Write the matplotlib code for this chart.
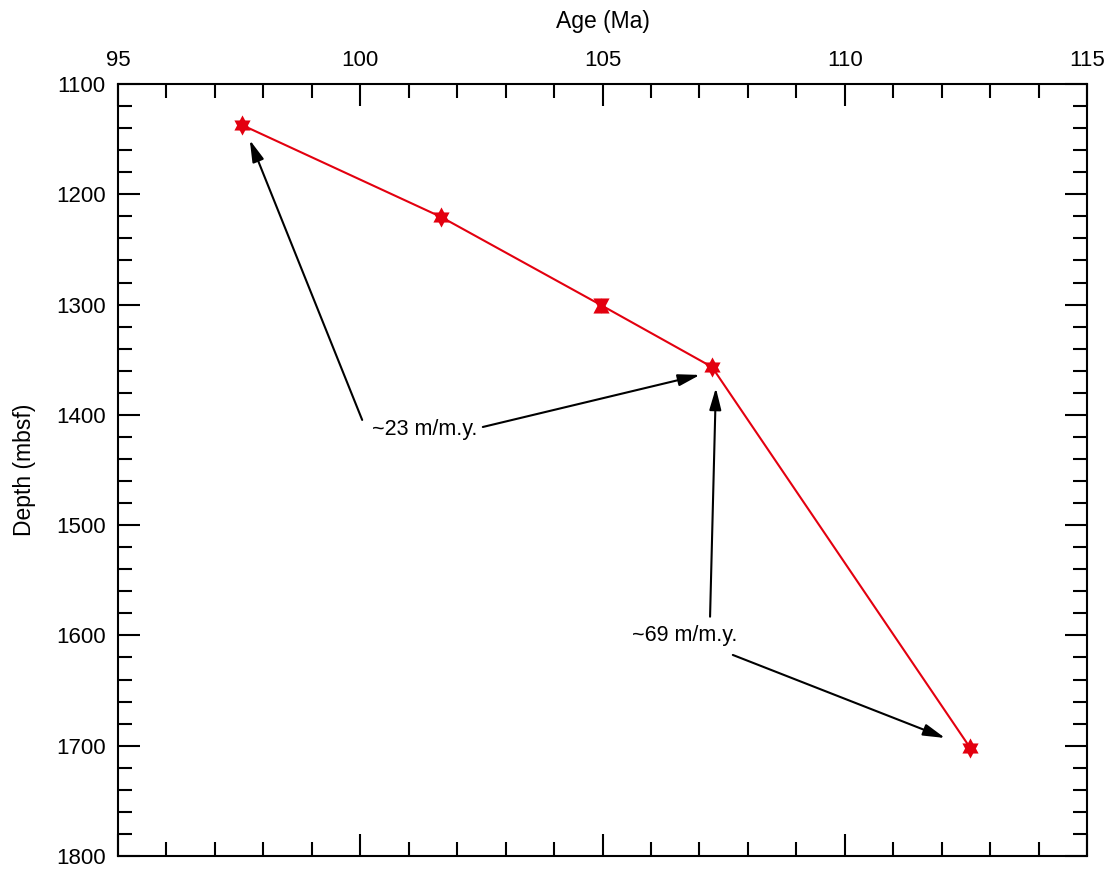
import numpy as np
import matplotlib
matplotlib.use('Agg')
import matplotlib.pyplot as plt
from matplotlib.ticker import MultipleLocator

plt.rcParams['font.family'] = ['Liberation Sans', 'DejaVu Sans']

# Age-depth datums (down/up triangles mark top and base of each datum)
age = [97.56, 101.67, 104.97, 107.26, 112.59]
depth_mid = [1137.2, 1220.6, 1300.5, 1356.6, 1702.0]
depth_top = [1137.2, 1220.6, 1298.2, 1356.6, 1702.0]
depth_bot = [1137.2, 1220.6, 1302.8, 1356.6, 1702.0]

# annotation arrows: (text_x, text_y, tip_x, tip_y)
arrows_23 = [(100.04, 1404.6, 97.72, 1150.8), (102.53, 1411.0, 107.01, 1363.8)]
arrows_69 = [(107.22, 1583.0, 107.34, 1375.6), (107.69, 1617.7, 112.07, 1693.0)]
label_23 = (101.34, 1413.7, '~23 m/m.y.')
label_69 = (106.70, 1600.5, '~69 m/m.y.')

# triangles centred on their centroid so that overlapping ones form a star
tri_up = [(0, 9.33), (-7.5, -4.67), (7.5, -4.67), (0, 9.33)]
tri_dn = [(0, -9.33), (-7.5, 4.67), (7.5, 4.67), (0, -9.33)]

fig = plt.figure(figsize=(11.12, 8.73), dpi=100)
ax = fig.add_axes([118 / 1112, 1 - 856 / 873, (1087 - 118) / 1112, (856 - 84) / 873])

red = '#e3000f'
ax.plot(age, depth_mid, color=red, lw=1.5, zorder=3)
ax.plot(age, depth_top, ls='none', marker=tri_dn, color=red, ms=14.5, mew=0, zorder=4)
ax.plot(age, depth_bot, ls='none', marker=tri_up, color=red, ms=14.5, mew=0, zorder=4)

for x0, y0, x1, y1 in arrows_23 + arrows_69:
    ax.annotate('', xy=(x1, y1), xytext=(x0, y0),
                arrowprops=dict(arrowstyle='-|>,head_length=1.1,head_width=0.3',
                                mutation_scale=12, color='black', lw=1.5,
                                shrinkA=0, shrinkB=0))

for x, y, s in [label_23, label_69]:
    ax.text(x, y, s, ha='center', va='center', fontsize=15.5)

ax.set_xlim(95, 115)
ax.set_ylim(1800, 1100)
ax.xaxis.tick_top()
ax.xaxis.set_label_position('top')
ax.xaxis.set_major_locator(MultipleLocator(5))
ax.xaxis.set_minor_locator(MultipleLocator(1))
ax.yaxis.set_major_locator(MultipleLocator(100))
ax.yaxis.set_minor_locator(MultipleLocator(20))
ax.tick_params(which='both', direction='in', top=True, bottom=True,
               left=True, right=True, labelbottom=False, labeltop=True,
               labelsize=16, width=1.5)
ax.tick_params(which='major', length=16, pad=9)
ax.tick_params(which='minor', length=10)
for sp in ax.spines.values():
    sp.set_linewidth(1.5)

ax.set_xlabel('Age (Ma)', fontsize=16.5, labelpad=16)
ax.set_ylabel('Depth (mbsf)', fontsize=16.5, labelpad=14)

fig.savefig('out.png', dpi=100)
